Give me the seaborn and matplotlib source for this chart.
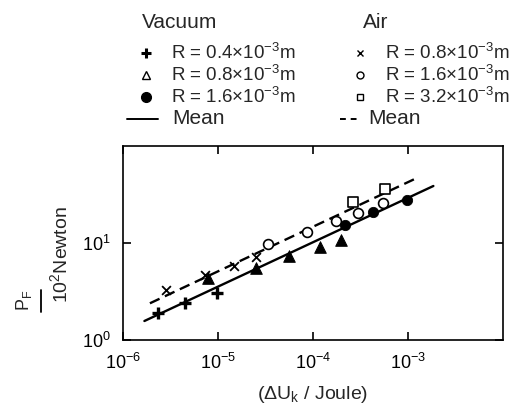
import matplotlib
matplotlib.use("Agg")
import matplotlib.pyplot as plt
from matplotlib.lines import Line2D
import seaborn as sns

# ---------------- data ----------------
vac_plus_x = [2.32e-6, 4.5e-6, 9.7e-6]
vac_plus_y = [1.88, 2.43, 3.03]
vac_tri_x = [7.9e-6, 2.49e-5, 5.58e-5, 1.19e-4, 1.96e-4]
vac_tri_y = [4.33, 5.48, 7.34, 9.16, 10.7]
vac_dot_x = [2.17e-4, 4.25e-4, 9.7e-4]
vac_dot_y = [15.3, 21.0, 27.7]
air_x_x = [2.84e-6, 7.3e-6, 1.49e-5, 2.49e-5]
air_x_y = [3.28, 4.68, 5.79, 7.12]
air_circ_x = [3.39e-5, 8.6e-5, 1.75e-4, 3.0e-4, 5.42e-4]
air_circ_y = [9.77, 13.1, 17.0, 20.2, 26.0]
air_sq_x = [2.62e-4, 5.73e-4]
air_sq_y = [26.7, 35.8]
vac_mean_x = [1.68e-6, 1.85e-3]
vac_mean_y = [1.57, 38.7]
air_mean_x = [1.92e-6, 1.16e-3]
air_mean_y = [2.39, 45.4]

vac_labels = [r"R = 0.4×10$^{-3}$m", r"R = 0.8×10$^{-3}$m",
              r"R = 1.6×10$^{-3}$m"]
air_labels = [r"R = 0.8×10$^{-3}$m", r"R = 1.6×10$^{-3}$m",
              r"R = 3.2×10$^{-3}$m"]
x_ticks = [1e-6, 1e-5, 1e-4, 1e-3]
y_ticks = [1, 10]

# ---------------- figure ----------------
sns.set_style("ticks")
FONT = 'Liberation Sans'
plt.rcParams['font.family'] = [FONT, 'DejaVu Sans']
plt.rcParams['mathtext.fontset'] = 'custom'
plt.rcParams['mathtext.rm'] = FONT
plt.rcParams['mathtext.it'] = FONT
plt.rcParams['mathtext.bf'] = FONT + ':bold'
plt.rcParams['mathtext.sf'] = FONT

W, H = 511, 409
fig = plt.figure(figsize=(W / 100, H / 100), dpi=100)
ax = fig.add_axes([123 / W, 1 - 340 / H, 380 / W, 194 / H])

def sc(x, y, **kw):
    sns.scatterplot(x=x, y=y, ax=ax, legend=False, zorder=3, **kw)

sns.lineplot(x=vac_mean_x, y=vac_mean_y, ax=ax, color='black', lw=1.7,
             legend=False, zorder=2)
sns.lineplot(x=air_mean_x, y=air_mean_y, ax=ax, color='black', lw=1.7,
             legend=False, zorder=2)
ax.lines[-1].set_dashes([4.5, 2.5])

sc(vac_plus_x, vac_plus_y, marker='+', s=70, color='black', linewidth=2.4)
sc(vac_tri_x, vac_tri_y, marker='^', s=70, color='black', edgecolor='black')
sc(vac_dot_x, vac_dot_y, marker='o', s=55, color='black', edgecolor='black')
sc(air_x_x, air_x_y, marker='x', s=40, color='black', linewidth=1.3)
sc(air_circ_x, air_circ_y, marker='o', s=50, facecolor='white',
   edgecolor='black', linewidth=1.2)
sc(air_sq_x, air_sq_y, marker='s', s=55, facecolor='white',
   edgecolor='black', linewidth=1.2)

ax.set_xscale('log')
ax.set_yscale('log')
ax.set_xlim(1e-6, 1e-2)
ax.set_ylim(1, 100)
ax.set_xticks(x_ticks)
ax.set_yticks(y_ticks)
ax.minorticks_off()
ax.tick_params(which='both', direction='in', length=6, width=1.2,
               top=True, right=True, labelsize=13, pad=9, colors='black')
for s in ax.spines.values():
    s.set_linewidth(1.2)
    s.set_color('black')

ax.set_xlabel(r"($\Delta$U$_k$ / Joule)", fontsize=14, labelpad=8)

def F(x, y):
    return (x / W, 1 - y / H)

# y label: P_F / 10^2 Newton (rotated fraction)
fig.text(*F(24, 300), r"P$_F$", rotation=90, fontsize=13,
         ha='center', va='center')
fig.add_artist(Line2D([41 / W, 41 / W], [1 - 290 / H, 1 - 312 / H],
                      color='black', lw=1.3, transform=fig.transFigure))
fig.text(*F(60, 255), r"10$^2$Newton", rotation=90, fontsize=14,
         ha='center', va='center')

# ---------------- legend (manual, two columns) ----------------
fs = 13.5
rows_y = [53, 75, 97]
fig.text(*F(142, 22), "Vacuum", fontsize=15, ha='left', va='center')
fig.text(*F(363, 22), "Air", fontsize=15, ha='left', va='center')

vac_mk = [dict(marker='+', ms=7, mew=2.2, color='black'),
          dict(marker='^', ms=6, mew=1.0, mfc='white', mec='black'),
          dict(marker='o', ms=7, color='black')]
air_mk = [dict(marker='x', ms=5, mew=1.0, color='black'),
          dict(marker='o', ms=5, mew=1.0, mfc='white', mec='black'),
          dict(marker='s', ms=5, mew=1.0, mfc='white', mec='black')]

for yy, lab, mk in zip(rows_y, vac_labels, vac_mk):
    fig.add_artist(Line2D([146 / W], [1 - yy / H], linestyle='none',
                          transform=fig.transFigure, **mk))
    fig.text(*F(171, yy), lab, fontsize=fs, ha='left', va='center')
for yy, lab, mk in zip(rows_y, air_labels, air_mk):
    fig.add_artist(Line2D([360 / W], [1 - yy / H], linestyle='none',
                          transform=fig.transFigure, **mk))
    fig.text(*F(385, yy), lab, fontsize=fs, ha='left', va='center')

fig.add_artist(Line2D([127 / W, 158 / W], [1 - 119 / H] * 2, color='black',
                      lw=1.4, transform=fig.transFigure))
fig.text(*F(172, 119), "Mean", fontsize=15, ha='left', va='center')
fig.add_artist(Line2D([340 / W, 359 / W], [1 - 119 / H] * 2, color='black',
                      lw=1.4, dashes=[3, 2.5], transform=fig.transFigure))
fig.text(*F(368, 119), "Mean", fontsize=15, ha='left', va='center')

fig.savefig("out.png", dpi=100)
